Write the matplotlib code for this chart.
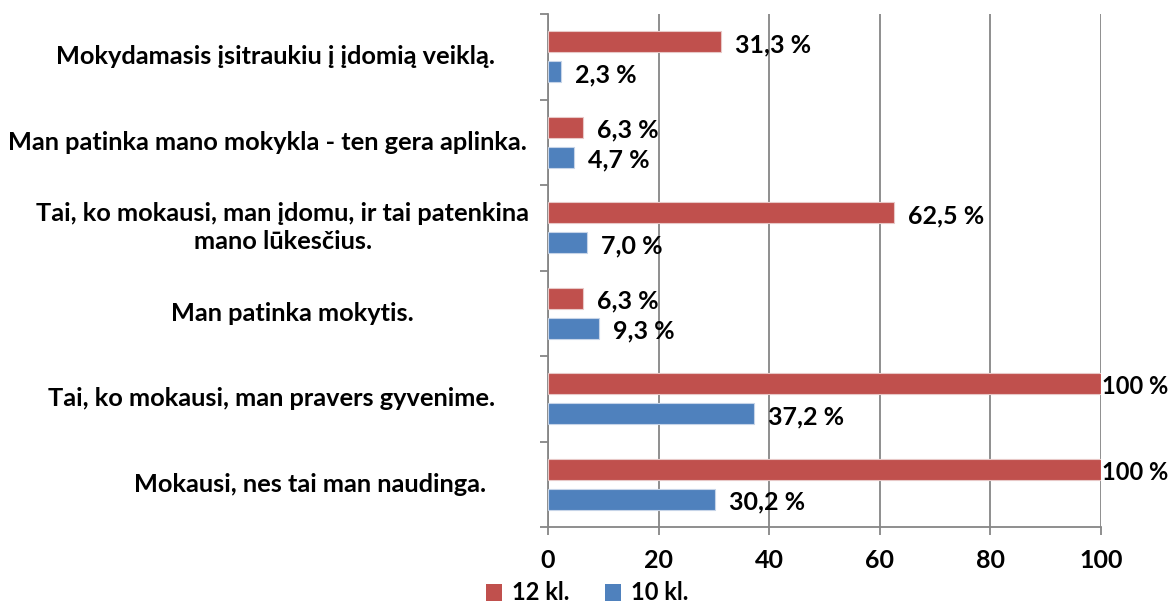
import matplotlib
matplotlib.use("Agg")
import matplotlib.pyplot as plt
import matplotlib.transforms as mtrans
import numpy as np

# Data (top to bottom)
categories = [
    "Mokydamasis įsitraukiu į įdomią veiklą.",
    "Man patinka mano mokykla - ten gera aplinka.",
    "Tai, ko mokausi, man įdomu, ir tai patenkina\nmano lūkesčius.",
    "Man patinka mokytis.",
    "Tai, ko mokausi, man pravers gyvenime.",
    "Mokausi, nes tai man naudinga.",
]
kl12 = [31.3, 6.3, 62.5, 6.3, 100, 100]
kl10 = [2.3, 4.7, 7.0, 9.3, 37.2, 30.2]
series_names = ["12 kl.", "10 kl."]
xticks = [0, 20, 40, 60, 80, 100]

red = "#C0504D"
blue = "#4F81BD"
grid_col = "#868686"
fnt = "Lato"

W, H = 1171, 604
fig = plt.figure(figsize=(W / 100, H / 100), dpi=100)
ax = fig.add_axes([548 / W, 1 - 527 / H, (1101 - 548) / W, (527 - 14) / H])

y = np.arange(len(categories))
off = 0.175
h = 0.25
b12 = ax.barh(y - off, kl12, height=h, color=red, edgecolor="#e8c8c7", linewidth=0.8, label=series_names[0], zorder=3)
b10 = ax.barh(y + off, kl10, height=h, color=blue, edgecolor="#c6d4e8", linewidth=0.8, label=series_names[1], zorder=3)

ax.set_xlim(0, 100)
ax.set_ylim(len(categories) - 0.5, -0.5)

# value labels
def fmt(v):
    if v >= 100:
        return "100 %"
    return ("%.1f" % v).replace(".", ",") + " %"

for bars, vals in ((b12, kl12), (b10, kl10)):
    for bar, v in zip(bars, vals):
        yc = bar.get_y() + bar.get_height() / 2
        if v >= 100:
            pad, fs = 0.5, 17
        else:
            pad, fs = 10, 18
        ax.annotate(fmt(v), (v, yc), xytext=(pad, -2), textcoords="offset points",
                    ha="left", va="center", fontsize=fs, fontweight="bold",
                    family=fnt, color="black", annotation_clip=False)

# grid & spines
ax.set_xticks(xticks)
ax.set_xticklabels([str(t) for t in xticks], fontsize=18, fontweight="bold", family=fnt)
ax.xaxis.grid(True, color=grid_col, linewidth=1.3, zorder=0)
ax.set_axisbelow(True)
for s in ("top", "right"):
    ax.spines[s].set_visible(False)
for s in ("left", "bottom"):
    ax.spines[s].set_color(grid_col)
    ax.spines[s].set_linewidth(1.3)
ax.tick_params(axis="x", length=6, width=1.3, color=grid_col, pad=10)
ax.set_yticks(np.arange(len(categories) + 1) - 0.5)
ax.set_yticklabels([])
ax.tick_params(axis="y", length=6, width=1.3, color=grid_col)

# category labels (Excel-style centred wrapping)
label_cx = [275, 267, 283, 292, 272, 310]
tr = mtrans.blended_transform_factory(fig.transFigure, ax.transData)
for i, (cat, cx) in enumerate(zip(categories, label_cx)):
    ax.text(cx / W, i, cat, transform=tr,
            ha="center", va="center", multialignment="center",
            fontsize=18.3, fontweight="bold", family=fnt, linespacing=1.25)

leg = fig.legend(handles=[b12, b10], loc="center", bbox_to_anchor=(587 / W, 1 - 593 / H),
                 ncol=2, frameon=False, prop={"family": fnt, "weight": "bold", "size": 17},
                 handlelength=0.7, handleheight=0.7, handletextpad=0.4, columnspacing=1.5,
                 borderpad=0)
for p in leg.get_patches():
    p.set_edgecolor("none")

fig.savefig("out.png", dpi=100)
